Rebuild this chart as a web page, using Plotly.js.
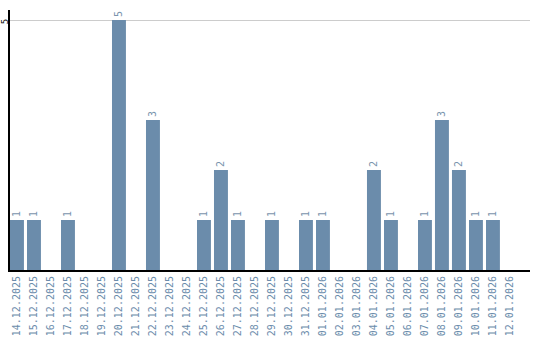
<!DOCTYPE html>
<html><head><meta charset="utf-8">
<script src="https://cdn.plot.ly/plotly-3.0.1.min.js"></script>
<style>html,body{margin:0;padding:0;background:#fff}#c{width:540px;height:340px}</style>
</head><body><div id="c"></div>
<script>
const dates = ["14.12.2025","15.12.2025","16.12.2025","17.12.2025","18.12.2025","19.12.2025","20.12.2025","21.12.2025","22.12.2025","23.12.2025","24.12.2025","25.12.2025","26.12.2025","27.12.2025","28.12.2025","29.12.2025","30.12.2025","31.12.2025","01.01.2026","02.01.2026","03.01.2026","04.01.2026","05.01.2026","06.01.2026","07.01.2026","08.01.2026","09.01.2026","10.01.2026","11.01.2026","12.01.2026"];
const counts = [1,1,0,1,0,0,5,0,3,0,0,1,2,1,0,1,0,1,1,0,0,2,1,0,1,3,2,1,1,0];
const labels = counts.map(v => v > 0 ? String(v) : "");
const font = "DejaVu Sans Mono, monospace";
Plotly.newPlot("c", [{
  type: "bar", x: dates, y: counts, text: labels,
  textposition: "outside", textangle: -90, cliponaxis: false,
  textfont: {family: font, size: 10, color: "#7a94ad"},
  marker: {color: "#6b8cab"}, hoverinfo: "none"
}], {
  width: 540, height: 340,
  margin: {l: 10, r: 10, t: 10, b: 70},
  paper_bgcolor: "#fff", plot_bgcolor: "#fff",
  bargap: 0.18, showlegend: false,
  xaxis: {type: "category", range: [-0.41, 30.18], showline: true, linecolor: "#000", linewidth: 2,
    tickangle: -90, tickfont: {family: font, size: 10, color: "#6b8cab"}, ticks: "", showgrid: false, automargin: false},
  yaxis: {range: [0, 5.2], tickvals: [5], ticktext: ["5"], showline: true, linecolor: "#000", linewidth: 2,
    showgrid: true, gridcolor: "#cccccc", zeroline: false, ticks: "", tickangle: -90,
    tickfont: {family: font, size: 9, color: "#000"}, automargin: false, ticklabelstandoff: -4, ticklabelshift: 3}
}, {displayModeBar: false, staticPlot: true});
</script></body></html>
